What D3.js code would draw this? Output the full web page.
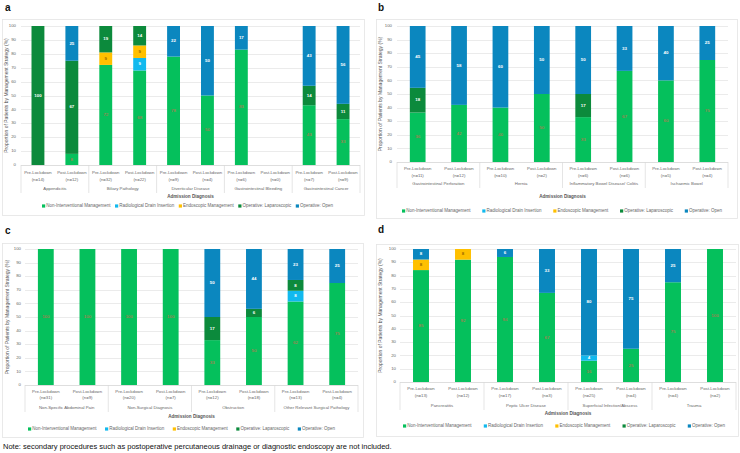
<!DOCTYPE html>
<html>
<head>
<meta charset="utf-8">
<script src="https://cdn.jsdelivr.net/npm/d3@7"></script>
<style>
  body { margin: 0; background: #fff; }
  text { font-family: "Liberation Sans", Arial, sans-serif; }
</style>
</head>
<body>
<div id="chart"></div>
<script>
// management strategies, stacked bottom -> top
var strategies = ['Non-Interventional Management', 'Radiological Drain Insertion', 'Endoscopic Management', 'Operative: Laparoscopic', 'Operative: Open'];
var periods = ['Pre-Lockdown', 'Post-Lockdown'];
var yTicks = [0, 10, 20, 30, 40, 50, 60, 70, 80, 90, 100];

// panel a
var diagnosesA = ['Appendicitis', 'Biliary Pathology', 'Diverticular Disease', 'Gastrointestinal Bleeding', 'Gastrointestinal Cancer'];
var countsA = [14, 12, 32, 22, 9, 4, 6, 0, 7, 9];
var nonInterventionalA = [0, 8, 72, 68, 78, 50, 83, 0, 43, 33];
var drainA = [0, 0, 0, 9, 0, 0, 0, 0, 0, 0];
var endoscopicA = [0, 0, 9, 9, 0, 0, 0, 0, 0, 0];
var laparoscopicA = [100, 67, 19, 14, 0, 0, 0, 0, 14, 11];
var openA = [0, 25, 0, 0, 22, 50, 17, 0, 43, 56];

// panel b
var diagnosesB = ['Gastrointestinal Perforation', 'Hernia', 'Inflammatory Bowel Disease/ Colitis', 'Ischaemic Bowel'];
var countsB = [11, 12, 10, 2, 6, 6, 5, 4];
var nonInterventionalB = [36, 42, 40, 50, 33, 67, 60, 75];
var drainB = [0, 0, 0, 0, 0, 0, 0, 0];
var endoscopicB = [0, 0, 0, 0, 0, 0, 0, 0];
var laparoscopicB = [18, 0, 0, 0, 17, 0, 0, 0];
var openB = [45, 58, 60, 50, 50, 33, 40, 25];

// panel c
var diagnosesC = ['Non-Specific Abdominal Pain', 'Non-Surgical Diagnosis', 'Obstruction', 'Other Relevant Surgical Pathology'];
var countsC = [31, 9, 20, 7, 12, 18, 13, 4];
var nonInterventionalC = [100, 100, 100, 100, 33, 50, 62, 75];
var drainC = [0, 0, 0, 0, 0, 0, 8, 0];
var endoscopicC = [0, 0, 0, 0, 0, 0, 0, 0];
var laparoscopicC = [0, 0, 0, 0, 17, 6, 8, 0];
var openC = [0, 0, 0, 0, 50, 44, 23, 25];

// panel d
var diagnosesD = ['Pancreatitis', 'Peptic Ulcer Disease', 'Superficial Infection/Abscess', 'Trauma'];
var countsD = [13, 12, 17, 3, 25, 4, 4, 2];
var nonInterventionalD = [85, 92, 94, 67, 16, 25, 75, 100];
var drainD = [0, 0, 0, 0, 4, 0, 0, 0];
var endoscopicD = [8, 8, 0, 0, 0, 0, 0, 0];
var laparoscopicD = [0, 0, 0, 0, 0, 0, 0, 0];
var openD = [8, 0, 6, 33, 80, 75, 25, 0];

var colors = ['#05c05c', '#12b9ee', '#ffc000', '#0c8a3c', '#0b87bf'];
var labelColors = ['#d2694c', '#ffffff', '#9a6a00', '#ffffff', '#ffffff'];

var panels = [
  { letter: 'a', letterPos: [5, 8], box: [2, 19, 364, 215], plot: [21, 360, 26, 165], yTitleX: 7, tickX: 16,
    rows: [173, 180, 189], titleY: 197, legendY: 206, legend: [42, 333],
    diagnoses: diagnosesA, counts: countsA, values: [nonInterventionalA, drainA, endoscopicA, laparoscopicA, openA] },
  { letter: 'b', letterPos: [378, 8], box: [376, 19, 737, 218], plot: [397, 728, 26, 162], yTitleX: 381, tickX: 392,
    rows: [169, 176, 184], titleY: 197, legendY: 211, legend: [402, 722],
    diagnoses: diagnosesB, counts: countsB, values: [nonInterventionalB, drainB, endoscopicB, laparoscopicB, openB] },
  { letter: 'c', letterPos: [5, 231], box: [2, 243, 363, 437], plot: [25, 358, 249, 385], yTitleX: 8, tickX: 21,
    rows: [392, 398, 408], titleY: 417, legendY: 429, legend: [28, 335],
    diagnoses: diagnosesC, counts: countsC, values: [nonInterventionalC, drainC, endoscopicC, laparoscopicC, openC] },
  { letter: 'd', letterPos: [378, 230], box: [376, 244, 738, 436], plot: [400, 736, 249, 382], yTitleX: 381, tickX: 396,
    rows: [389, 396, 406], titleY: 414, legendY: 426, legend: [403, 725],
    diagnoses: diagnosesD, counts: countsD, values: [nonInterventionalD, drainD, endoscopicD, laparoscopicD, openD] }
];

var svg = d3.select('#chart').append('svg')
  .attr('width', 740).attr('height', 453)
  .style('display', 'block');
svg.append('rect').attr('width', 740).attr('height', 453).attr('fill', '#fff');

function drawPanel(p) {
  var g = svg.append('g');
  var left = p.plot[0], right = p.plot[1], top = p.plot[2], bottom = p.plot[3];

  g.append('rect')
    .attr('x', p.box[0] + 0.5).attr('y', p.box[1] + 0.5)
    .attr('width', p.box[2] - p.box[0]).attr('height', p.box[3] - p.box[1])
    .attr('fill', '#fff').attr('stroke', '#e4e4e4').attr('stroke-width', 0.8);

  g.append('text')
    .attr('x', p.letterPos[0]).attr('y', p.letterPos[1])
    .attr('dominant-baseline', 'middle')
    .attr('font-size', 10).attr('font-weight', 'bold').attr('fill', '#111')
    .text(p.letter);

  var rows = [];
  p.diagnoses.forEach(function(dx, i) {
    periods.forEach(function(per, j) {
      var k = i * 2 + j;
      var row = { key: k, diagnosis: dx, period: per, n: p.counts[k] };
      strategies.forEach(function(s, si) { row[s] = p.values[si][k]; });
      rows.push(row);
    });
  });

  var x = d3.scaleBand()
    .domain(rows.map(function(d) { return d.key; }))
    .range([left, right])
    .paddingInner(0.62).paddingOuter(0.31);
  var y = d3.scaleLinear().domain([0, 100]).range([bottom, top]);

  // gridlines and ticks
  g.append('g').selectAll('line').data(yTicks).join('line')
    .attr('x1', left).attr('x2', right)
    .attr('y1', function(d) { return Math.round(y(d)) + 0.5; })
    .attr('y2', function(d) { return Math.round(y(d)) + 0.5; })
    .attr('stroke', function(d) { return d === 0 ? '#d0d0d0' : '#e2e2e2'; })
    .attr('stroke-width', 0.7);
  g.append('g').selectAll('text').data(yTicks).join('text')
    .attr('x', p.tickX).attr('y', function(d) { return y(d); })
    .attr('text-anchor', 'end').attr('dominant-baseline', 'middle')
    .attr('font-size', 4.3).attr('fill', '#666')
    .text(function(d) { return d; });

  g.append('text')
    .attr('transform', 'translate(' + p.yTitleX + ',' + ((top + bottom) / 2) + ') rotate(-90)')
    .attr('text-anchor', 'middle').attr('dominant-baseline', 'middle')
    .attr('font-size', 5).attr('fill', '#555')
    .text('Proportion of Patients by Management Strategy (%)');

  var stack = d3.stack().keys(strategies).offset(d3.stackOffsetExpand);
  var layers = stack(rows);

  var bars = g.append('g');
  layers.forEach(function(layer, li) {
    var segs = layer.filter(function(d) { return d.data[strategies[li]] > 0; });
    bars.append('g').selectAll('rect').data(segs).join('rect')
      .attr('x', function(d) { return x(d.data.key); })
      .attr('width', x.bandwidth())
      .attr('y', function(d) { return y(d[1] * 100); })
      .attr('height', function(d) { return y(d[0] * 100) - y(d[1] * 100); })
      .attr('fill', colors[li]);
    bars.append('g').selectAll('text').data(segs).join('text')
      .attr('x', function(d) { return x(d.data.key) + x.bandwidth() / 2; })
      .attr('y', function(d) { return y((d[0] + d[1]) * 50); })
      .attr('text-anchor', 'middle').attr('dominant-baseline', 'middle')
      .attr('font-size', 4.4)
      .attr('font-weight', li === 0 ? 'normal' : 'bold')
      .attr('fill', labelColors[li])
      .text(function(d) { return d.data[strategies[li]]; });
  });

  // category axis (two levels)
  var step = x.step();
  var sepBottom = p.rows[2] + 4;
  g.append('g').selectAll('line').data(d3.range(p.diagnoses.length + 1)).join('line')
    .attr('x1', function(i) { return left + i * 2 * step; })
    .attr('x2', function(i) { return left + i * 2 * step; })
    .attr('y1', bottom).attr('y2', sepBottom)
    .attr('stroke', '#dadada').attr('stroke-width', 0.7);

  var ax = g.append('g').attr('font-size', 4.3).attr('fill', '#666');
  ax.selectAll('.per').data(rows).join('text').attr('class', 'per')
    .attr('x', function(d) { return x(d.key) + x.bandwidth() / 2; })
    .attr('y', p.rows[0])
    .attr('text-anchor', 'middle').attr('dominant-baseline', 'middle')
    .text(function(d) { return d.period; });
  ax.selectAll('.n').data(rows).join('text').attr('class', 'n')
    .attr('x', function(d) { return x(d.key) + x.bandwidth() / 2; })
    .attr('y', p.rows[1])
    .attr('text-anchor', 'middle').attr('dominant-baseline', 'middle')
    .text(function(d) { return '(n=' + d.n + ')'; });
  ax.selectAll('.dx').data(p.diagnoses).join('text').attr('class', 'dx')
    .attr('x', function(d, i) { return left + (i * 2 + 1) * step; })
    .attr('y', p.rows[2])
    .attr('text-anchor', 'middle').attr('dominant-baseline', 'middle')
    .text(function(d) { return d; });

  g.append('text')
    .attr('x', (left + right) / 2).attr('y', p.titleY)
    .attr('text-anchor', 'middle').attr('dominant-baseline', 'middle')
    .attr('font-size', 4.6).attr('font-weight', 'bold').attr('fill', '#555')
    .text('Admission Diagnosis');

  // legend spread between the given ends
  var leg = g.append('g');
  var items = leg.selectAll('g').data(strategies).join('g');
  items.append('rect')
    .attr('y', p.legendY - 1.6).attr('width', 3.2).attr('height', 3.2)
    .attr('fill', function(d, i) { return colors[i]; });
  var labels = items.append('text')
    .attr('x', 4.2).attr('y', p.legendY)
    .attr('dominant-baseline', 'middle')
    .attr('font-size', 4.5).attr('fill', '#666')
    .text(function(d) { return d; });
  var widths = [];
  labels.each(function() { widths.push(4.2 + this.getComputedTextLength()); });
  var gap = (p.legend[1] - p.legend[0] - d3.sum(widths)) / (strategies.length - 1);
  var cx = p.legend[0];
  items.attr('transform', function(d, i) {
    var t = 'translate(' + cx + ',0)';
    cx += widths[i] + gap;
    return t;
  });
}

panels.forEach(drawPanel);

svg.append('text')
  .attr('x', 3).attr('y', 447)
  .attr('dominant-baseline', 'middle')
  .attr('font-size', 7.5).attr('fill', '#111')
  .text('Note: secondary procedures such as postoperative percutaneous drainage or diagnostic endoscopy are not included.');
</script>
</body>
</html>
